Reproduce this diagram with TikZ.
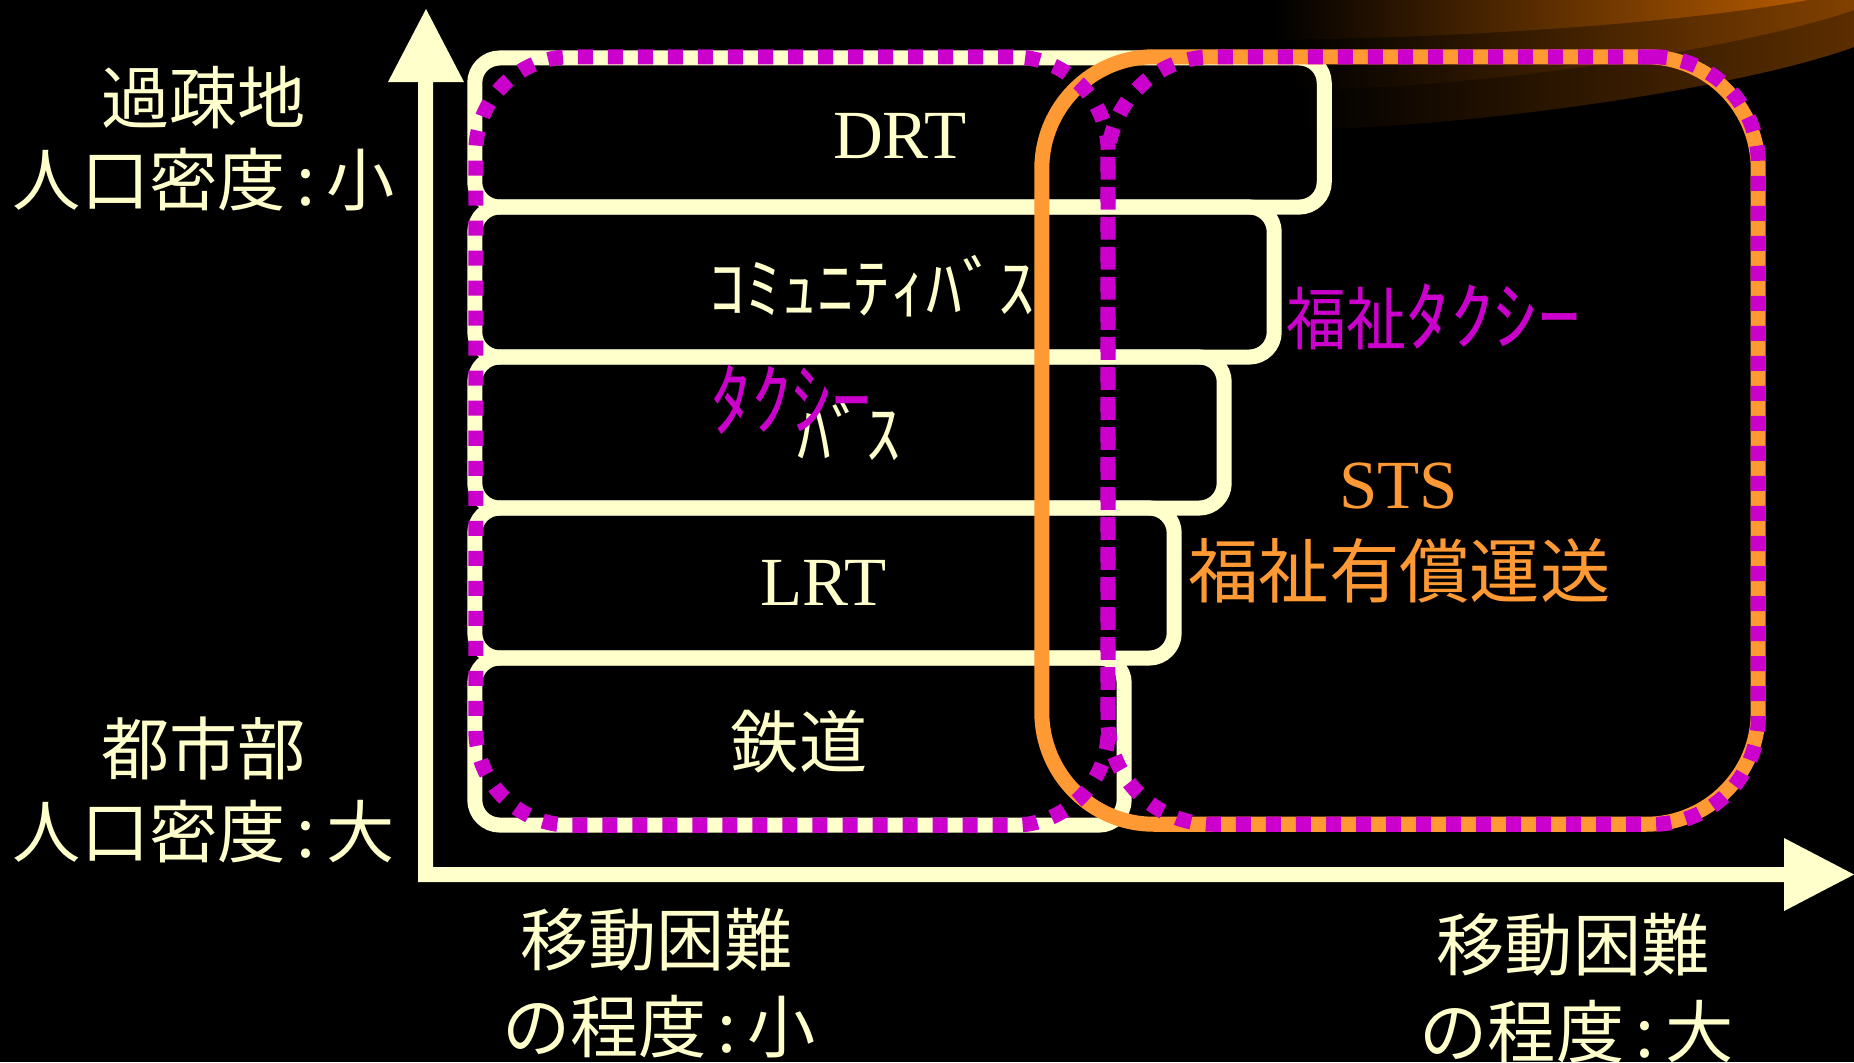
\documentclass[tikz,border=0pt]{standalone}
\usepackage{fontspec}
\usepackage{graphicx}
\setmainfont{Liberation Serif}
\newfontfamily\jpf{Noto Sans CJK JP}
\definecolor{cream}{HTML}{FFFFCC}
\definecolor{mag}{HTML}{CC00CC}
\definecolor{orng}{HTML}{FF9933}
\definecolor{glowA}{RGB}{180,90,0}
\definecolor{glowB}{RGB}{130,65,0}
\definecolor{glowC}{RGB}{92,46,0}
\newcommand\clon{\makebox[0.6em][c]{:}}
\tikzset{
  cbox/.style={draw=cream, line width=0.15cm, rounded corners=0.25cm, inner sep=0pt},
  stsbox/.style={draw=orng, line width=0.15cm, inner sep=0pt},
  mdot/.style={draw=mag, line width=0.15cm, dash pattern=on 0.15cm off 0.15cm, inner sep=0pt},
  jl/.style={text=cream, font=\jpf\fontsize{19.4}{23}\selectfont, inner sep=0pt},
  ser/.style={text=cream, font=\rmfamily\fontsize{19.6}{23}\selectfont, inner sep=0pt},
  arr/.style={fill=cream}
}
\begin{document}
\begin{tikzpicture}[x=0.01cm,y=-0.01cm]
\useasboundingbox (0,0) rectangle (1854,1062);
\fill[black] (0,0) rectangle (1854,1062);
% glow at top right
\shade[left color=black, right color=glowC] (1300,0) -- (1300,130) .. controls (1500,125) and (1750,85) .. (1854,47) -- (1854,0) -- cycle;
\shade[left color=black, right color=glowB] (1292,0) -- (1292,90) .. controls (1500,88) and (1750,46) .. (1854,10) -- (1854,0) -- cycle;
\shade[left color=black, right color=glowA] (1273,0) -- (1273,40) .. controls (1500,37) and (1700,20) .. (1808,0) -- cycle;
% cream boxes
\node[cbox, minimum width=8.49cm, minimum height=1.49cm] (bdrt) at (899.5,132.5) {};
\node[cbox, minimum width=7.99cm, minimum height=1.50cm] (bcom) at (874.5,282) {};
\node[cbox, minimum width=7.49cm, minimum height=1.51cm] (bbus) at (849.5,432.5) {};
\node[cbox, minimum width=6.99cm, minimum height=1.50cm] (blrt) at (824.5,583) {};
\node[cbox, minimum width=6.49cm, minimum height=1.67cm] (brail) at (799.5,741.5) {};
% orange STS box
\node[stsbox, rounded corners=1.12cm, minimum width=7.16cm, minimum height=7.67cm] (sts) at (1400,440.5) {};
% magenta dotted shapes
\node[mdot, rounded corners=0.95cm, minimum width=6.32cm, minimum height=7.68cm] (taxi) at (792,441) {};
\node[mdot, rounded corners=1.05cm, minimum width=6.50cm, minimum height=7.67cm] (wtaxi) at (1433,440.5) {};
% axes
\fill[arr] (418,882) -- (418,82) -- (388,82) -- (426,9) -- (464,82) -- (433,82) -- (433,867) -- (1784,867) -- (1784,838) -- (1854,874.5) -- (1784,911) -- (1784,882) -- cycle;
% labels
\node[jl] (kaso) at (203.5,97.5) {過疎地};
\node[jl] (dens1) at (204,180) {人口密度\clon 小};
\node[jl] (toshi) at (203.5,748.5) {都市部};
\node[jl] (dens2) at (204,831.5) {人口密度\clon 大};
\node[jl] (idoL) at (656.5,940) {移動困難};
\node[jl] (degL) at (659,1027) {の程度\clon 小};
\node[jl] (idoR) at (1573,945) {移動困難};
\node[jl] (degR) at (1576.5,1031.5) {の程度\clon 大};
\node[ser] (tdrt) at (900,136) {DRT};
\node[jl] (tcom) at (872,286) {\scalebox{1.06}[1]{ｺﾐｭﾆﾃｨﾊﾞｽ}};
\node[jl] (tbus) at (849,431) {ﾊﾞｽ};
\node[jl, text=mag, font=\jpf\fontsize{22.8}{26}\selectfont] (ttaxi) at (791.5,400) {ﾀｸｼｰ};
\node[ser] (tlrt) at (823.5,582.5) {LRT};
\node[jl] (trail) at (799,741.5) {鉄道};
\node[ser, text=orng] (tsts) at (1398.5,486) {STS};
\node[jl, text=orng, font=\jpf\fontsize{20}{24}\selectfont] (tyusho) at (1399.5,570.5) {福祉有償運送};
\node[jl, text=mag] (twtaxi) at (1433.5,316.5) {\scalebox{0.88}[1]{福祉}{\fontsize{21.5}{26}\selectfont\scalebox{1.15}[1]{ﾀｸｼｰ}}};
\end{tikzpicture}
\end{document}
